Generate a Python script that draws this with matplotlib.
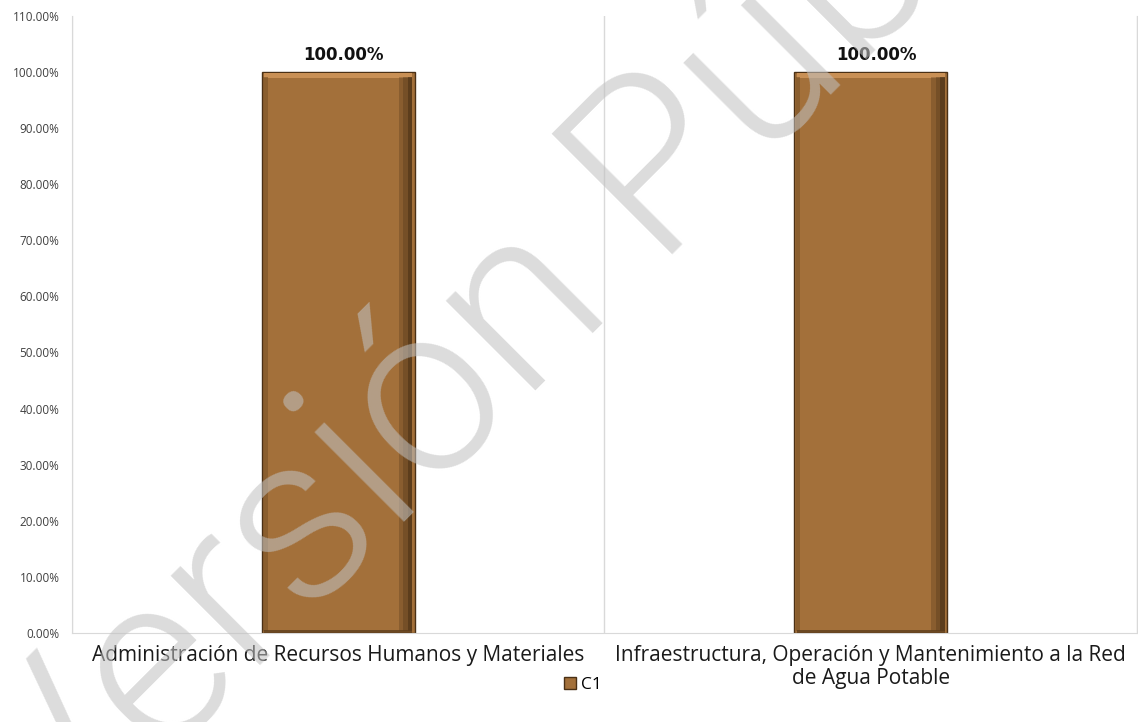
import numpy as np
import matplotlib
matplotlib.use('Agg')
import matplotlib.pyplot as plt
from matplotlib.ticker import FuncFormatter

# Data
categories = ['Administración de Recursos Humanos y Materiales',
              'Infraestructura, Operación y Mantenimiento a la Red\nde Agua Potable']
values = [100.0, 100.0]
series_name = 'C1'
y_ticks = np.arange(0, 111, 10)

bar_color = '#A3703A'
dark_edge = '#4A3015'
light_edge = '#C99055'
grid_color = '#D9D9D9'

plt.rcParams['font.family'] = ['Open Sans', 'DejaVu Sans']

fig = plt.figure(figsize=(11.38, 7.22), dpi=100)
ax = fig.add_axes([0.0633, 0.1233, 0.9357, 0.8547])

x = np.arange(len(categories))
width = 0.287

# Main bars
bars = ax.bar(x, values, width=width, color=bar_color, edgecolor=dark_edge,
              linewidth=1.0, zorder=2, label=series_name)

# Bevel effect: light top strip and dark right/bottom strips
vals = np.array(values)
ax.bar(x, np.full_like(vals, 0.9), bottom=vals - 1.0, width=width * 0.97,
       color=light_edge, linewidth=0, zorder=3)
for k, a in enumerate([0.25, 0.45, 0.7]):
    ax.bar(x + width * (0.41 + 0.03 * k), vals - 1.2, bottom=0.3,
           width=width * 0.03, color='#3E2810', linewidth=0, zorder=3, alpha=a)
ax.bar(x - width * 0.475, vals - 1.2, bottom=0.3, width=width * 0.03,
       color='#7A5227', linewidth=0, zorder=3, alpha=0.6)
ax.bar(x, np.full_like(vals, 0.6), bottom=0.0, width=width * 0.97,
       color='#5E3E1C', linewidth=0, zorder=3, alpha=0.8)

# Data labels
for xi, v in zip(x, values):
    ax.text(xi + 0.01, v + 1.5, f'{v:.2f}%', ha='center', va='bottom',
            fontsize=12, fontweight='bold', color='#111111',
            family=['DejaVu Sans'])

ax.set_xlim(-0.5, len(categories) - 0.5)
ax.set_ylim(0, 110)
ax.set_yticks(y_ticks)
ax.yaxis.set_major_formatter(FuncFormatter(lambda v, p: f'{v:.2f}%'))
ax.tick_params(axis='y', length=0, labelsize=8.5, labelcolor='#404040', pad=9)
ax.tick_params(axis='x', length=0, labelsize=15, labelcolor='#1a1a1a', pad=9)
ax.set_xticks(x)
ax.set_xticklabels(categories, linespacing=1.1)

# Category separators
for xb in np.arange(-0.5, len(categories), 1.0):
    ax.axvline(xb, color=grid_color, linewidth=1.0, zorder=1)

for s in ['top']:
    ax.spines[s].set_visible(False)
for s in ['left', 'right', 'bottom']:
    ax.spines[s].set_color(grid_color)

leg = fig.legend(handles=[bars[0]], labels=[series_name], loc='center',
                 bbox_to_anchor=(0.512, 0.051), frameon=False, fontsize=12.5,
                 handlelength=0.7, handleheight=0.7, handletextpad=0.3)

# Watermark
fig.text(0.512, 0.653, 'Versión Pública', fontsize=172, color='#C1C1C1',
         alpha=0.57, rotation=45, ha='center', va='center',
         family=['Roboto'], fontweight=300, rotation_mode='anchor', zorder=10)

fig.savefig('out.png', dpi=100)
